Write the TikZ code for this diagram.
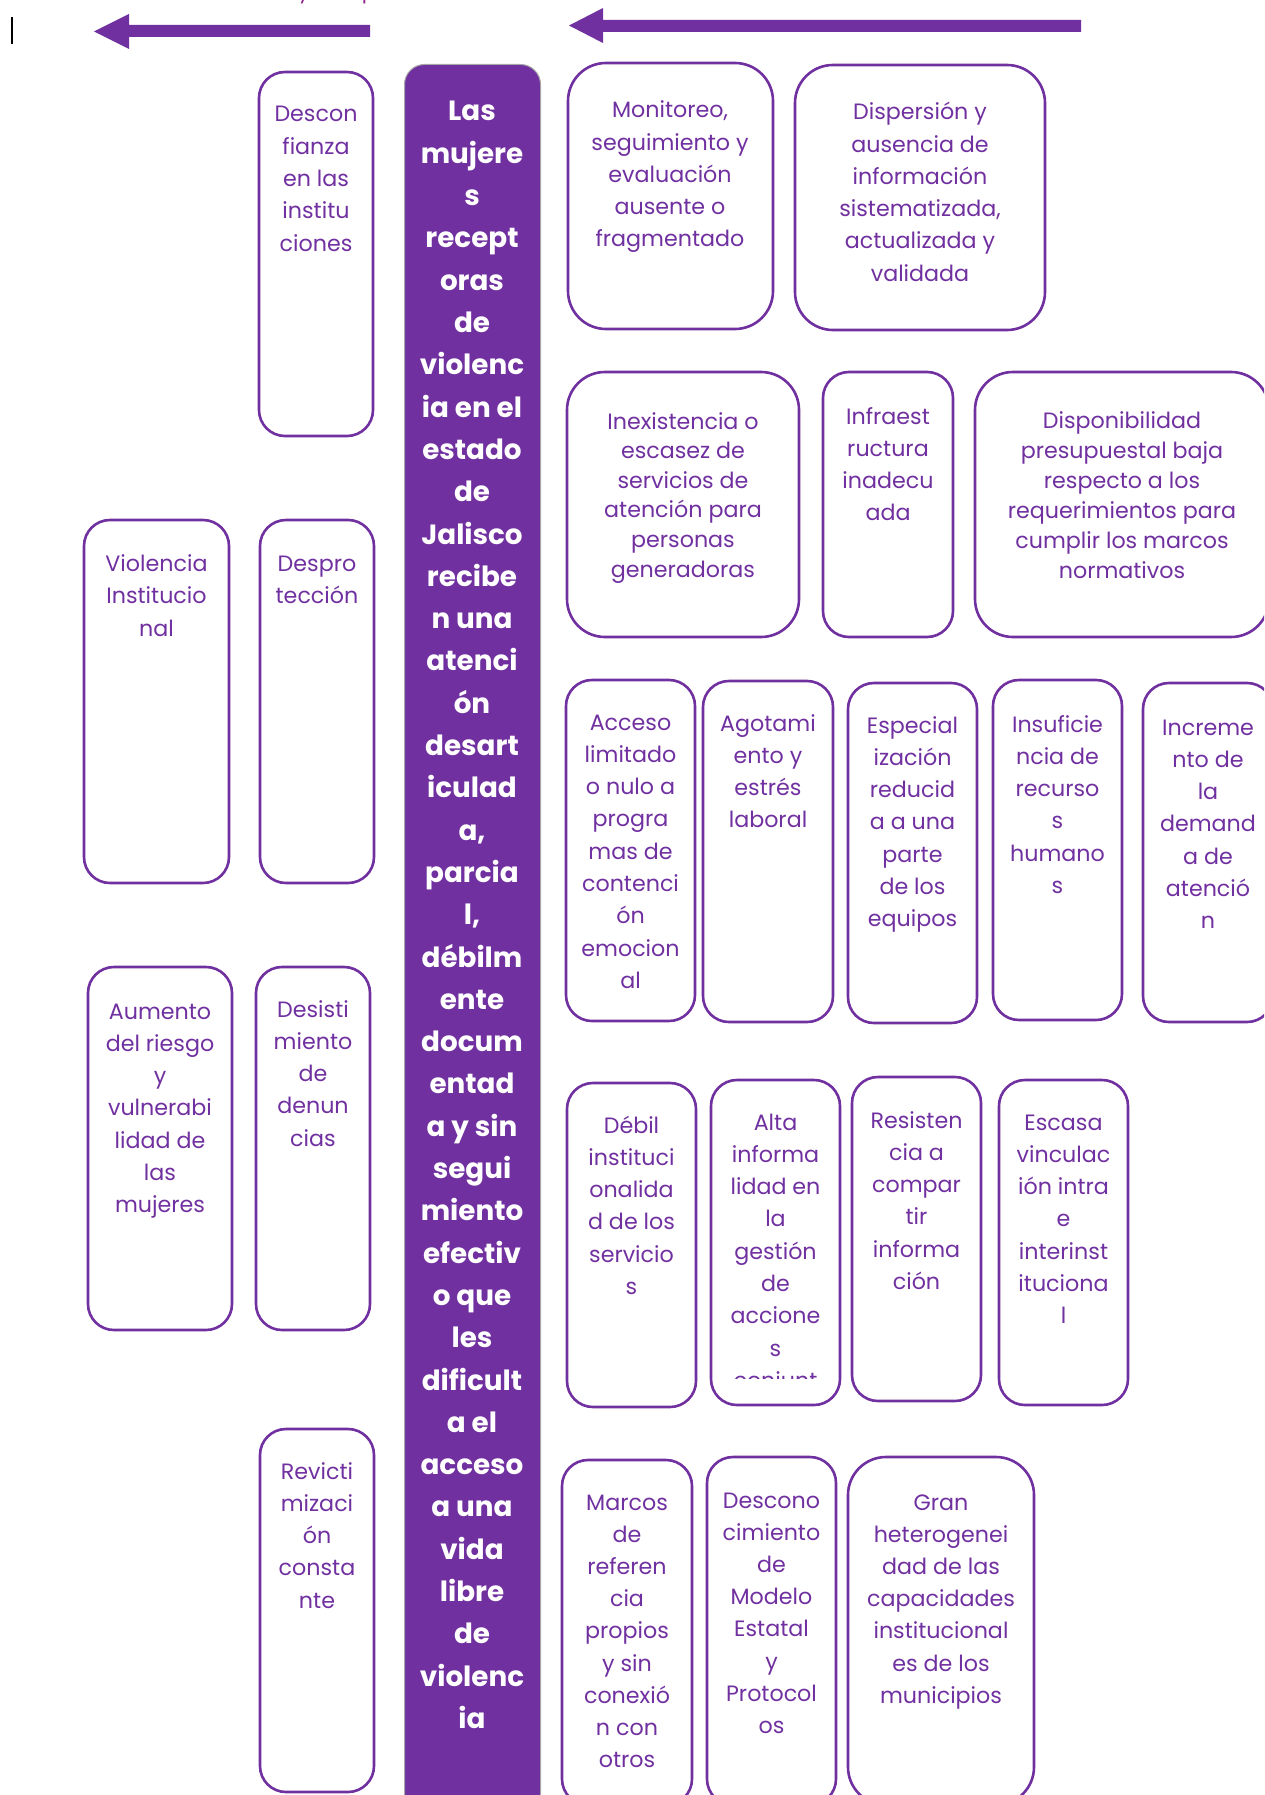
\documentclass[tikz,border=0pt]{standalone}
\usepackage{fontspec}
\setmainfont{Poppins}
\definecolor{pur}{HTML}{7030A0}
\definecolor{mag}{HTML}{92278F}
\tikzset{
  cbox/.style={draw=pur, line width=2.6pt, rounded corners=26pt, inner sep=0pt, outer sep=0pt},
  wbox/.style={cbox, rounded corners=38pt},
  ln/.style={anchor=base, text=pur, font=\fontsize{22.2}{26}\selectfont, inner sep=0pt},
  bln/.style={anchor=base, text=white, font=\fontsize{27.8}{34}\selectfont\bfseries, inner sep=0pt},
}
\newcommand\mybox[6]{%
  \node[#2, anchor=north west, minimum width={(#5-#3)*1pt}, minimum height={(#6-#4)*1pt}] (#1) at (#3,#4) {};}
\newcommand\mylines[5]{%
  \foreach \t [count=\i from 0] in {#5} \node[ln] (#1-\i) at (#2, #3+\i*#4) {\t};}
\begin{document}
\begin{tikzpicture}[x=1pt,y=-1pt]
\useasboundingbox (0,0) rectangle (1264,1795);
\begin{scope}
\clip (0,0) rectangle (1264,1795);
% cut-off heading text at the top
\node[anchor=base, text=mag, font=\fontsize{21}{25}\selectfont, inner sep=0pt] (ty) at (304,-1) {y};
\node[anchor=base, text=mag, font=\fontsize{21}{25}\selectfont, inner sep=0pt] (tp) at (369,-1) {p};
% cursor
\draw[line width=2pt] (12,17) -- (12,44);
% arrows
\coordinate (la) at (370,31);
\fill[pur] (la) ++(0,-6) -- (129,25) -- (129,14) -- (94,31.5) -- (129,49) -- (129,37) -- (370,37) -- cycle;
\coordinate (ra) at (1081,26);
\fill[pur] (ra) ++(0,-6) -- (603,20) -- (603,8) -- (569,25.5) -- (603,43) -- (603,32) -- (1081,32) -- cycle;
% central box
\node[draw=black!35, line width=1pt, fill=pur, rounded corners=20pt, anchor=north west,
      minimum width=136pt, minimum height=1750pt, inner sep=0pt] (central) at (404,64) {};
\foreach \t [count=\i from 0] in {Las,mujere,s,recept,oras,de,violenc,ia en el,estado,de,Jalisco,recibe,n una,atenci,ón,desart,iculad,{a,},parcia,{l,},débilm,ente,docum,entad,a y sin,segui,miento,efectiv,o que,les,dificult,a el,acceso,a una,vida,libre,de,violenc,ia}
  \node[bln] (c-\i) at (472, 121+\i*42.3) {\t};
% left column
\mybox{descon}{cbox}{259}{72}{373}{436}
\mylines{desconT}{316}{122}{32.3}{Descon,fianza,en las,institu,ciones}
\mybox{violencia}{cbox}{84}{520}{229}{883}
\mylines{violenciaT}{156.5}{571}{32.5}{Violencia,Institucio,nal}
\mybox{despro}{cbox}{260}{520}{374}{883}
\mylines{desproT}{317}{571}{32.5}{Despro,tección}
\mybox{aumento}{cbox}{88}{967}{232}{1330}
\mylines{aumentoT}{160}{1019}{32.3}{Aumento,del riesgo,y,vulnerabi,lidad de,las,mujeres}
\mybox{desisti}{cbox}{256}{967}{370}{1330}
\mylines{desistiT}{313}{1017}{32.3}{Desisti,miento,de,denun,cias}
\mybox{revicti}{cbox}{260}{1429}{374}{1792}
\mylines{revictiT}{317}{1479}{32.3}{Revicti,mizaci,ón,consta,nte}
% right: row 1
\mybox{monitoreo}{wbox}{568}{63}{773}{329}
\mylines{monitoreoT}{670}{118}{32.2}{{Monitoreo,},seguimiento y,evaluación,ausente o,fragmentado}
\mybox{dispersion}{wbox}{795}{65}{1045}{330}
\mylines{dispersionT}{920}{120}{32.2}{Dispersión y,ausencia de,información,{sistematizada,},actualizada y,validada}
% row 2
\mybox{inexist}{wbox}{567}{372}{799}{637}
\mylines{inexistT}{683}{429}{29.6}{Inexistencia o,escasez de,servicios de,atención para,personas,generadoras}
\mybox{infra}{cbox}{823}{372}{953}{637}
\mylines{infraT}{888}{424}{32}{Infraest,ructura,inadecu,ada}
\mybox{dispon}{wbox}{975}{372}{1269}{637}
\mylines{disponT}{1122}{428}{30}{Disponibilidad,presupuestal baja,respecto a los,requerimientos para,cumplir los marcos,normativos}
% row 3
\mybox{acceso}{cbox}{566}{680}{695}{1021}
\mylines{accesoT}{630.5}{730}{32.3}{Acceso,limitado,o nulo a,progra,mas de,contenci,ón,emocion,al}
\mybox{agotami}{cbox}{703}{681}{833}{1022}
\mylines{agotamiT}{768}{731}{32.3}{Agotami,ento y,estrés,laboral}
\mybox{especial}{cbox}{848}{683}{977}{1023}
\mylines{especialT}{912.5}{733}{32.3}{Especial,ización,reducid,a a una,parte,de los,equipos}
\mybox{insufic}{cbox}{993}{680}{1122}{1020}
\mylines{insuficT}{1057.5}{732}{32.3}{Insuficie,ncia de,recurso,s,humano,s}
\mybox{incremento}{cbox}{1143}{683}{1273}{1022}
\mylines{incrementoT}{1208}{735}{32.3}{Increme,nto de,la,demand,a de,atenció,n}
% row 4
\mybox{debil}{cbox}{567}{1083}{696}{1407}
\mylines{debilT}{631.5}{1133}{32.3}{Débil,instituci,onalida,d de los,servicio,s}
\mybox{alta}{cbox}{711}{1080}{840}{1405}
\begin{scope}
\clip (700,1070) rectangle (850,1378);
\mylines{altaT}{775.5}{1130}{32.3}{Alta,informa,lidad en,la,gestión,de,accione,s,conjunt}
\end{scope}
\mybox{resist}{cbox}{852}{1077}{981}{1401}
\mylines{resistT}{916.5}{1128}{32.3}{Resisten,cia a,compar,tir,informa,ción}
\mybox{escasa}{cbox}{999}{1080}{1128}{1405}
\mylines{escasaT}{1063.5}{1130}{32.3}{Escasa,vinculac,ión intra,e,interinst,ituciona,l}
% row 5
\mybox{marcos}{cbox}{562}{1460}{692}{1805}
\mylines{marcosT}{627}{1510}{32.2}{Marcos,de,referen,cia,propios,y sin,conexió,n con,otros}
\mybox{descono}{cbox}{707}{1457}{836}{1805}
\mylines{desconoT}{771.5}{1508}{32.2}{Descono,cimiento,de,Modelo,Estatal,y,Protocol,os}
\mybox{gran}{wbox}{848}{1457}{1034}{1805}
\mylines{granT}{941}{1510}{32.2}{Gran,heterogenei,dad de las,capacidades,institucional,es de los,municipios}
\end{scope}
\end{tikzpicture}
\end{document}
